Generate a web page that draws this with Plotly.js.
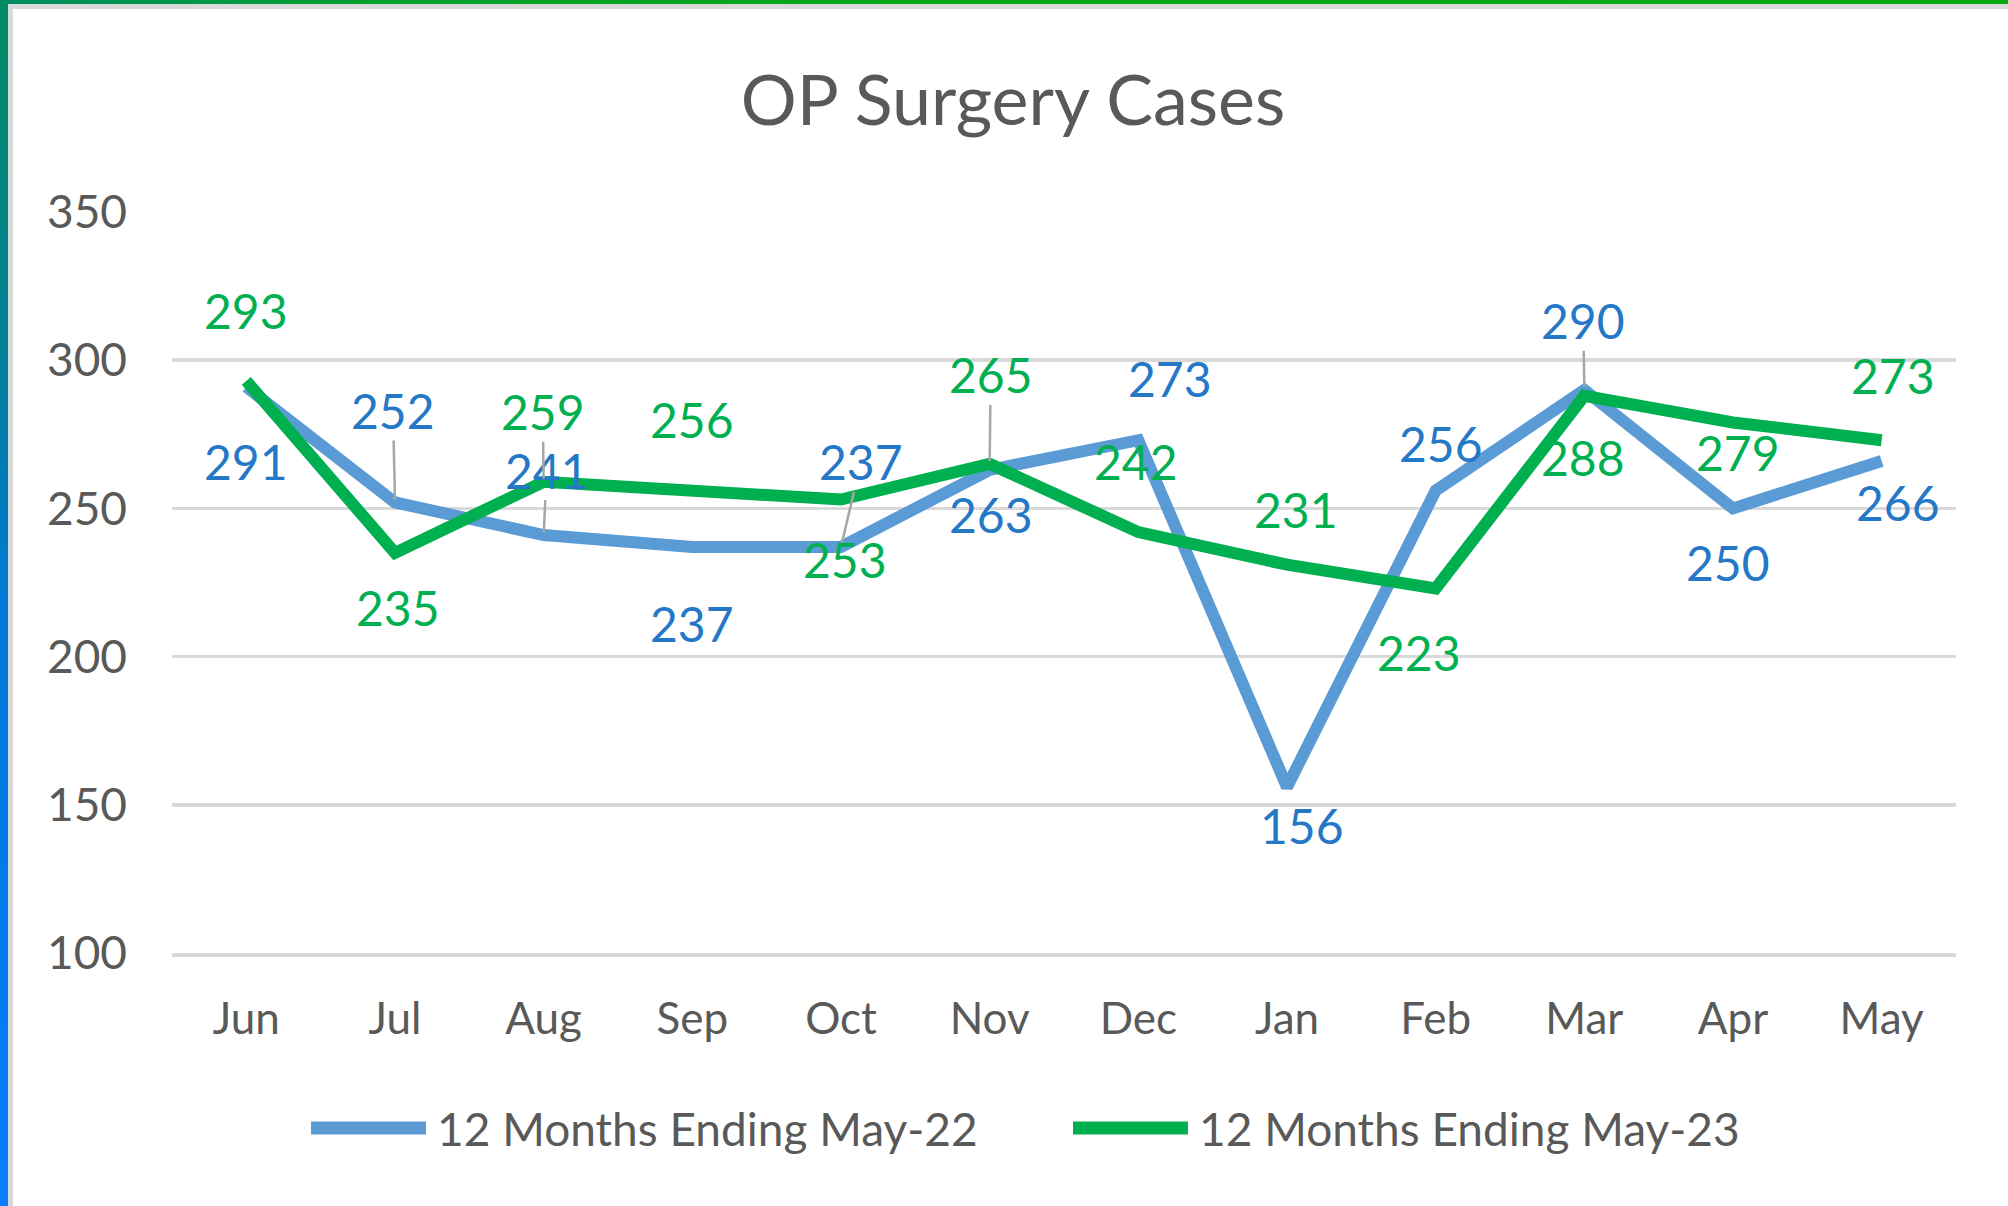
<!DOCTYPE html>
<html>
<head>
<meta charset="utf-8">
<script src="https://cdn.plot.ly/plotly-3.0.1.min.js"></script>
<style>
  html, body { margin: 0; padding: 0; background: #ffffff; }
  #wrap { position: relative; width: 2008px; height: 1206px; overflow: hidden; background: #ffffff; }
  #chart { position: absolute; left: 0; top: 0; width: 2008px; height: 1206px; }
  .bar { position: absolute; pointer-events: none; }
</style>
</head>
<body>
<div id="wrap">
  <div id="chart"></div>
  <div class="bar" style="left:0;top:4px;width:2008px;height:5px;background:#D9D9D9;"></div>
  <div class="bar" style="left:8px;top:4px;width:5px;height:1202px;background:#D9D9D9;"></div>
  <div class="bar" style="left:0;top:0;width:2008px;height:4px;background:linear-gradient(to right,#008C62 0%,#00A02E 18%,#04A816 45%,#05AA12 100%);"></div>
  <div class="bar" style="left:0;top:0;width:8px;height:1206px;background:linear-gradient(to bottom,#008C62 0%,#007F9A 30%,#0078D7 50%,#0A7CFF 100%);"></div>
</div>
<script>
// ---- data ----
const chartTitle = 'OP Surgery Cases';
const months = ['Jun','Jul','Aug','Sep','Oct','Nov','Dec','Jan','Feb','Mar','Apr','May'];
const seriesNames = ['12 Months Ending May-22', '12 Months Ending May-23'];
const casesMay22 = [291, 252, 241, 237, 237, 263, 273, 156, 256, 290, 250, 266];
const casesMay23 = [293, 235, 259, 256, 253, 265, 242, 231, 223, 288, 279, 273];
const yTicks = [100, 150, 200, 250, 300, 350];

// ---- styling / label placement (pixel offsets from each point) ----
const lineColors = ['#5B9BD5', '#00B050'];
const labelColors = ['#2478C6', '#00B050'];
const labelOffsets22 = [[0,75],[-2,-92],[3,-65],[0,77],[20,-85],[1,45],[32,-62],[15,38],[5,-47],[-1,-69],[-5,54],[16,42]];
const labelOffsets23 = [[0,-70],[3,55],[-1,-70],[0,-71],[4,60],[1,-89],[-2,-71],[9,-55],[-17,64],[-1,62],[5,30],[11,-65]];
const leaders22 = [false,true,true,false,true,false,false,false,false,true,false,false];
const leaders23 = [false,false,true,false,false,true,false,false,false,false,false,false];

const W = 2008, H = 1206;
const plotL = 172, plotR = 1956, plotT = 212, plotB = 953;
const FONT = 'Lato, "Open Sans", sans-serif';
const px2x = p => (p - plotL) / (plotR - plotL);
const px2y = p => (plotB - p) / (plotB - plotT);

const traces = [
  { type: 'scatter', mode: 'lines', name: seriesNames[0], x: months, y: casesMay22,
    line: { color: lineColors[0], width: 12 }, hoverinfo: 'x+y' },
  { type: 'scatter', mode: 'lines', name: seriesNames[1], x: months, y: casesMay23,
    line: { color: lineColors[1], width: 12 }, hoverinfo: 'x+y' }
];

const annotations = [];
function addLabels(vals, offs, leaders, color) {
  vals.forEach((v, i) => {
    annotations.push({
      x: months[i], y: v, xref: 'x', yref: 'y',
      text: String(v), showarrow: true, arrowhead: 0, arrowwidth: 2.5,
      arrowcolor: leaders[i] ? '#A6A6A6' : 'rgba(0,0,0,0)',
      standoff: 3, ax: offs[i][0], ay: offs[i][1],
      font: { family: FONT, size: 48, color: color }
    });
  });
}
addLabels(casesMay22, labelOffsets22, leaders22, labelColors[0]);
addLabels(casesMay23, labelOffsets23, leaders23, labelColors[1]);

// custom legend
const legendY = px2y(1128);
const legendItems = [
  { x0: 311, x1: 426, tx: 435, color: lineColors[0], name: seriesNames[0] },
  { x0: 1073, x1: 1188, tx: 1197, color: lineColors[1], name: seriesNames[1] }
];
const shapes = [];
legendItems.forEach(it => {
  shapes.push({ type: 'line', xref: 'paper', yref: 'paper', x0: px2x(it.x0), x1: px2x(it.x1),
    y0: legendY, y1: legendY, line: { color: it.color, width: 13 } });
  annotations.push({ xref: 'paper', yref: 'paper', x: px2x(it.tx), y: legendY,
    xanchor: 'left', yanchor: 'middle', showarrow: false, text: it.name,
    font: { family: FONT, size: 46, color: '#595959' } });
});

const layout = {
  width: W, height: H,
  margin: { l: plotL, r: W - plotR, t: plotT, b: H - plotB, pad: 0 },
  paper_bgcolor: '#ffffff', plot_bgcolor: '#ffffff',
  showlegend: false,
  title: { text: chartTitle, xref: 'container', yref: 'container', x: 1013 / W, y: 1 - 100 / H,
    xanchor: 'center', yanchor: 'middle', font: { family: FONT, size: 70, color: '#595959' } },
  xaxis: { type: 'category', range: [-0.5, 11.5], showgrid: false, zeroline: false,
    showline: true, linecolor: '#D9D9D9', linewidth: 3.5, ticks: '', ticklabelstandoff: 25,
    tickfont: { family: FONT, size: 44, color: '#595959' }, fixedrange: true },
  yaxis: { range: [100, 350], tickvals: yTicks, showgrid: true, gridcolor: '#D9D9D9', gridwidth: 3.5,
    zeroline: false, showline: false, ticks: '', ticklabelstandoff: 44,
    tickfont: { family: FONT, size: 46, color: '#595959' }, fixedrange: true },
  annotations: annotations,
  shapes: shapes
};

Plotly.newPlot('chart', traces, layout, { staticPlot: true, displayModeBar: false });
</script>
</body>
</html>
